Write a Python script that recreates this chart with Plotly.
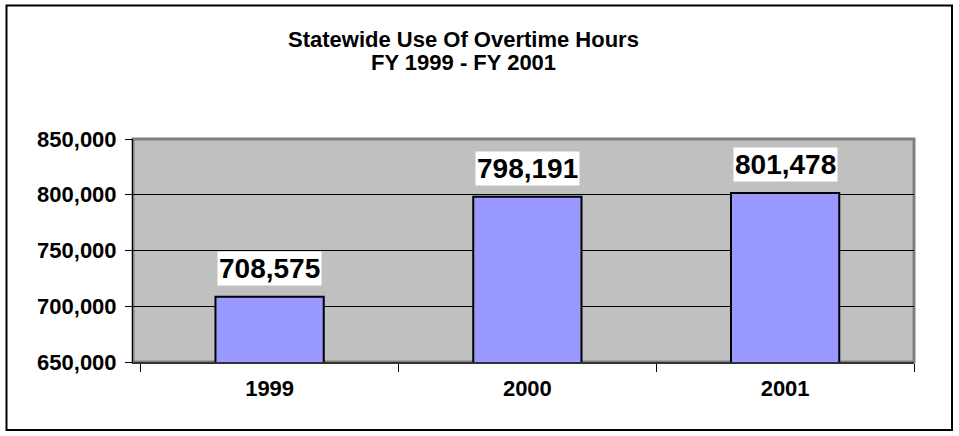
import plotly.graph_objects as go

# Fiscal years and statewide overtime hours
years = ["1999", "2000", "2001"]
overtime_hours = [708575, 798191, 801478]
y_ticks = [650000, 700000, 750000, 800000, 850000]
y_tick_labels = ["650,000", "700,000", "750,000", "800,000", "850,000"]

title_line1 = "Statewide Use Of Overtime Hours"
title_line2 = "FY 1999 - FY 2001"

FONT = "Liberation Sans, Arial, sans-serif"

W, H = 959, 436
L, R, T, B = 133, 45, 139, 74
plot_w = W - L - R
plot_h = H - T - B


def px_to_paper_x(px):
    return (px - L) / plot_w


def px_to_paper_y(py):
    return (H - B - py) / plot_h


fig = go.Figure()

fig.add_trace(go.Bar(
    x=years,
    y=overtime_hours,
    width=0.42,
    marker=dict(color="#9999FF", line=dict(color="black", width=2)),
    hoverinfo="x+y",
))

# Value labels on white boxes above each bar (positioned by category index)
for i, val in enumerate(overtime_hours):
    fig.add_annotation(
        x=i, y=val, xref="x", yref="y",
        text=f"<b>{val:,}</b>",
        showarrow=False,
        yanchor="bottom", yshift=11,
        font=dict(family=FONT, size=28, color="black"),
        bgcolor="white", borderpad=1,
    )

# Chart title, one annotation per line with compact line boxes
for line, cy in ((title_line1, 39), (title_line2, 62)):
    fig.add_annotation(
        x=px_to_paper_x(463), y=px_to_paper_y(cy),
        xref="paper", yref="paper",
        text=f"<b>{line}</b>",
        showarrow=False, xanchor="center", yanchor="middle",
        height=22, borderpad=0, valign="middle",
        font=dict(family=FONT, size=22, color="black"),
    )

# Plot-area frame (grey on top/right) and outer chart border
fig.add_shape(type="rect", xref="paper", yref="paper", x0=0, y0=0, x1=1, y1=1,
              line=dict(color="#808080", width=3), layer="below")
fig.add_shape(type="rect", xref="paper", yref="paper",
              x0=px_to_paper_x(6.5), y0=px_to_paper_y(5.5),
              x1=px_to_paper_x(952), y1=px_to_paper_y(430),
              line=dict(color="black", width=2))

fig.update_layout(
    width=W, height=H,
    margin=dict(l=L, r=R, t=T, b=B),
    paper_bgcolor="white",
    plot_bgcolor="#C0C0C0",
    showlegend=False,
    font=dict(family=FONT, color="black"),
    xaxis=dict(
        type="category",
        range=[-0.53, 2.5],
        tickson="boundaries",
        ticks="outside", ticklen=8, tickcolor="black", tickwidth=1,
        showline=True, linecolor="#333333", linewidth=2,
        showgrid=False,
        tickfont=dict(family=FONT, size=22, color="black", weight="bold"),
        ticklabelstandoff=6,
    ),
    yaxis=dict(
        range=[650000, 850000],
        tickvals=y_ticks, ticktext=y_tick_labels,
        ticks="outside", ticklen=7, tickcolor="black", tickwidth=1,
        showline=True, linecolor="black", linewidth=1,
        showgrid=True, gridcolor="black", gridwidth=1,
        zeroline=False,
        tickfont=dict(family=FONT, size=22, color="black", weight="bold"),
        ticklabelstandoff=4,
    ),
)

fig.write_html("out.html")
